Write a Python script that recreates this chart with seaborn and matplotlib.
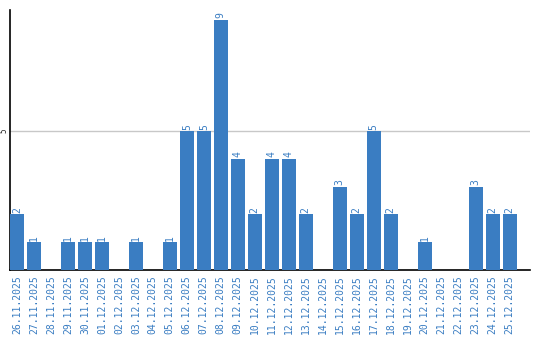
import matplotlib
matplotlib.use("Agg")
import matplotlib.pyplot as plt
import seaborn as sns
import pandas as pd

dates = ["26.11.2025", "27.11.2025", "28.11.2025", "29.11.2025", "30.11.2025",
         "01.12.2025", "02.12.2025", "03.12.2025", "04.12.2025", "05.12.2025",
         "06.12.2025", "07.12.2025", "08.12.2025", "09.12.2025", "10.12.2025",
         "11.12.2025", "12.12.2025", "13.12.2025", "14.12.2025", "15.12.2025",
         "16.12.2025", "17.12.2025", "18.12.2025", "19.12.2025", "20.12.2025",
         "21.12.2025", "22.12.2025", "23.12.2025", "24.12.2025", "25.12.2025"]
values = [2, 1, 0, 1, 1, 1, 0, 1, 0, 1, 5, 5, 9, 4, 2, 4, 4, 2, 0, 3,
          2, 5, 2, 0, 1, 0, 0, 3, 2, 2]

sns.set_style("white")
color = "#3a7dc2"
df = pd.DataFrame({"date": dates, "value": values})

fig = plt.figure(figsize=(5.4, 3.4), dpi=100)
ax = fig.add_axes([10/540, 70/340, 520/540, 260/340])
sns.barplot(data=df, x="date", y="value", color=color, saturation=1,
            width=0.82, linewidth=0, edgecolor="none", ax=ax, zorder=3)

ax.set_xlim(-0.41, 30.2)
ax.set_ylim(0, 9.35)
ax.set_xlabel("")
ax.set_ylabel("")
ax.axhline(5, color="#c8c8c8", lw=1, zorder=1)
ax.set_yticks([5])
ax.set_yticklabels(["5"], rotation=90, fontsize=5.5, va="center",
                   family="DejaVu Sans Mono")
ax.tick_params(axis="y", length=0, pad=1)
ax.tick_params(axis="x", length=0, pad=4)
ax.set_xticks(range(len(dates)))
ax.set_xticklabels(dates, rotation=90, fontsize=7, color=color,
                   family="DejaVu Sans Mono")

for i, v in enumerate(values):
    if v > 0:
        ax.text(i, v + 0.05, str(v), rotation=90, ha="center", va="bottom",
                fontsize=7, color=color, family="DejaVu Sans Mono")

for s in ["top", "right"]:
    ax.spines[s].set_visible(False)
ax.spines["left"].set_color("black")
ax.spines["bottom"].set_color("black")
ax.spines["left"].set_linewidth(1.2)
ax.spines["bottom"].set_linewidth(1.2)

fig.savefig("out.png", dpi=100)
